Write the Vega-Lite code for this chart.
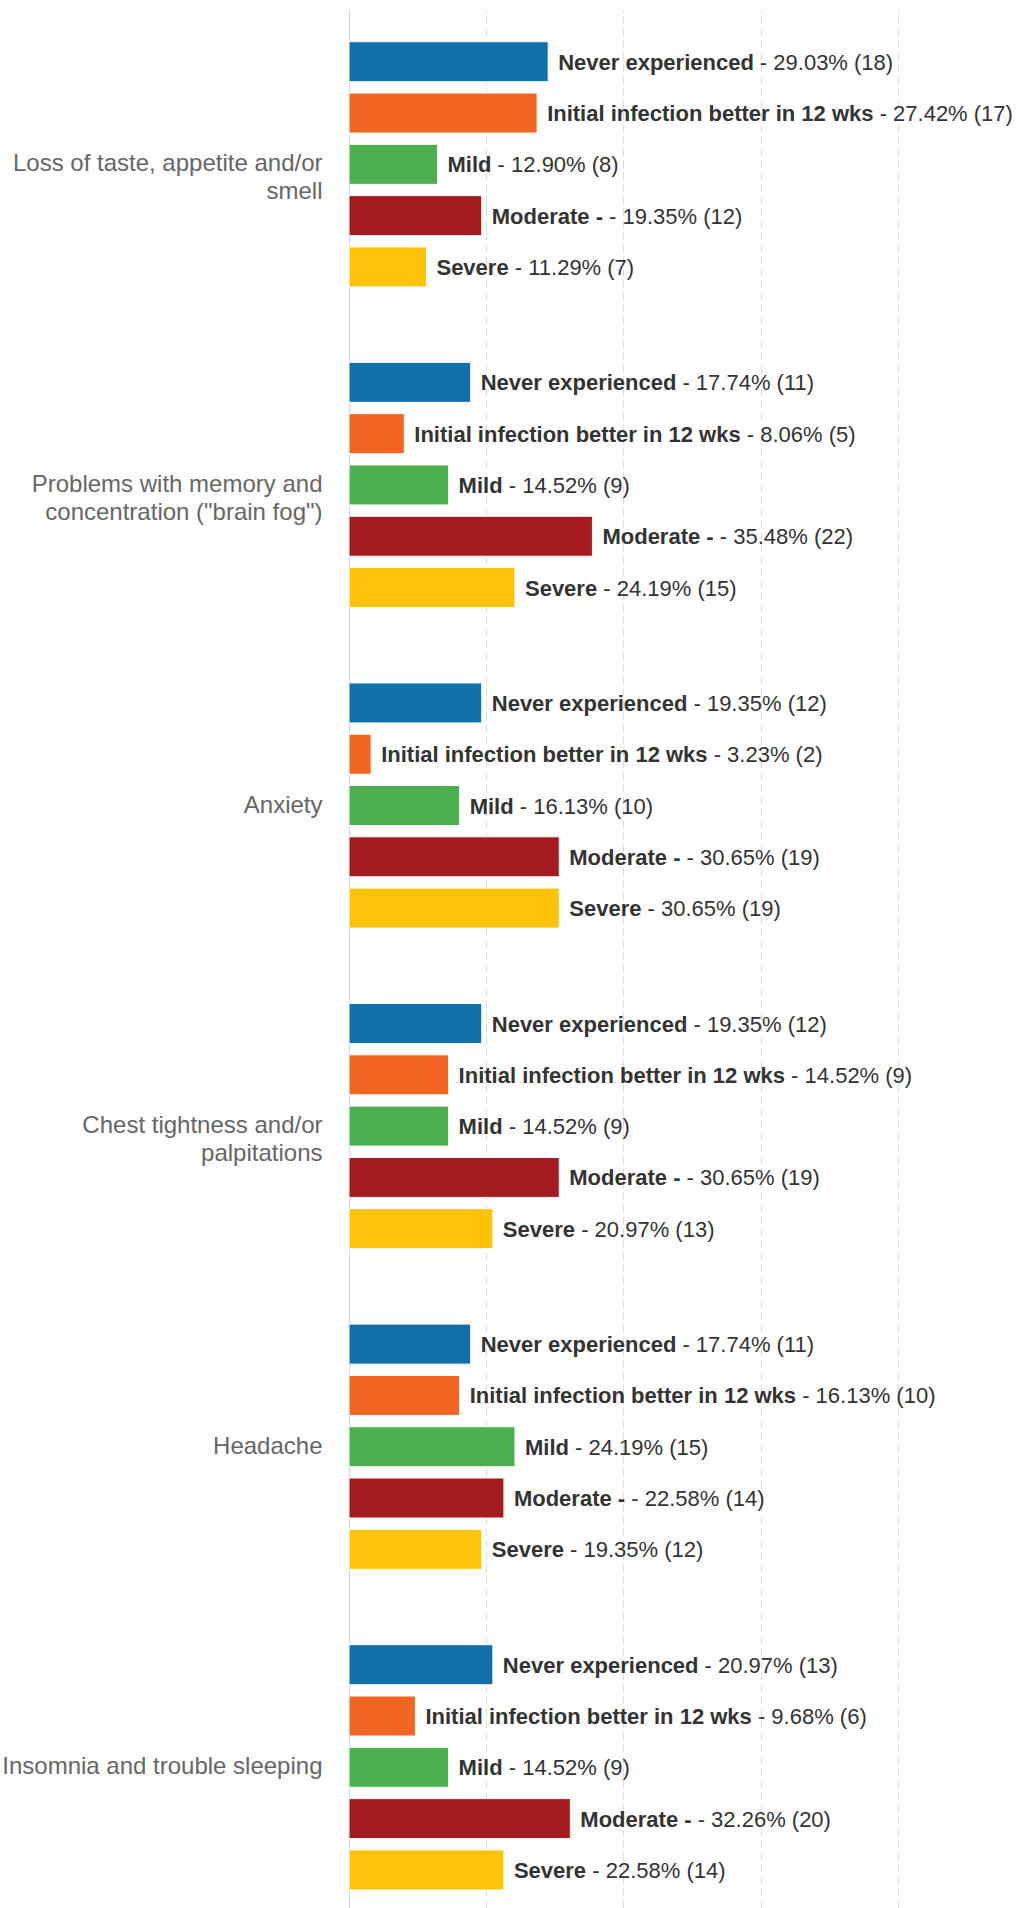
{
  "$schema": "https://vega.github.io/schema/vega-lite/v6.json",
  "autosize": {"type": "none"},
  "padding": {"left": 349, "top": 9, "right": 0, "bottom": 0},
  "width": 671,
  "height": 1899,
  "background": "#ffffff",
  "config": {"view": {"stroke": null}, "font": "Liberation Sans"},
  "data": {
    "values": [
      {"symptom": "Loss of taste, appetite and/or smell", "cat": "Never experienced", "pct": 29.03, "n": 18},
      {"symptom": "Loss of taste, appetite and/or smell", "cat": "Initial infection better in 12 wks", "pct": 27.42, "n": 17},
      {"symptom": "Loss of taste, appetite and/or smell", "cat": "Mild", "pct": 12.90, "n": 8},
      {"symptom": "Loss of taste, appetite and/or smell", "cat": "Moderate -", "pct": 19.35, "n": 12},
      {"symptom": "Loss of taste, appetite and/or smell", "cat": "Severe", "pct": 11.29, "n": 7},
      {"symptom": "Problems with memory and concentration (\"brain fog\")", "cat": "Never experienced", "pct": 17.74, "n": 11},
      {"symptom": "Problems with memory and concentration (\"brain fog\")", "cat": "Initial infection better in 12 wks", "pct": 8.06, "n": 5},
      {"symptom": "Problems with memory and concentration (\"brain fog\")", "cat": "Mild", "pct": 14.52, "n": 9},
      {"symptom": "Problems with memory and concentration (\"brain fog\")", "cat": "Moderate -", "pct": 35.48, "n": 22},
      {"symptom": "Problems with memory and concentration (\"brain fog\")", "cat": "Severe", "pct": 24.19, "n": 15},
      {"symptom": "Anxiety", "cat": "Never experienced", "pct": 19.35, "n": 12},
      {"symptom": "Anxiety", "cat": "Initial infection better in 12 wks", "pct": 3.23, "n": 2},
      {"symptom": "Anxiety", "cat": "Mild", "pct": 16.13, "n": 10},
      {"symptom": "Anxiety", "cat": "Moderate -", "pct": 30.65, "n": 19},
      {"symptom": "Anxiety", "cat": "Severe", "pct": 30.65, "n": 19},
      {"symptom": "Chest tightness and/or palpitations", "cat": "Never experienced", "pct": 19.35, "n": 12},
      {"symptom": "Chest tightness and/or palpitations", "cat": "Initial infection better in 12 wks", "pct": 14.52, "n": 9},
      {"symptom": "Chest tightness and/or palpitations", "cat": "Mild", "pct": 14.52, "n": 9},
      {"symptom": "Chest tightness and/or palpitations", "cat": "Moderate -", "pct": 30.65, "n": 19},
      {"symptom": "Chest tightness and/or palpitations", "cat": "Severe", "pct": 20.97, "n": 13},
      {"symptom": "Headache", "cat": "Never experienced", "pct": 17.74, "n": 11},
      {"symptom": "Headache", "cat": "Initial infection better in 12 wks", "pct": 16.13, "n": 10},
      {"symptom": "Headache", "cat": "Mild", "pct": 24.19, "n": 15},
      {"symptom": "Headache", "cat": "Moderate -", "pct": 22.58, "n": 14},
      {"symptom": "Headache", "cat": "Severe", "pct": 19.35, "n": 12},
      {"symptom": "Insomnia and trouble sleeping", "cat": "Never experienced", "pct": 20.97, "n": 13},
      {"symptom": "Insomnia and trouble sleeping", "cat": "Initial infection better in 12 wks", "pct": 9.68, "n": 6},
      {"symptom": "Insomnia and trouble sleeping", "cat": "Mild", "pct": 14.52, "n": 9},
      {"symptom": "Insomnia and trouble sleeping", "cat": "Moderate -", "pct": 32.26, "n": 20},
      {"symptom": "Insomnia and trouble sleeping", "cat": "Severe", "pct": 22.58, "n": 14}
    ]
  },
  "encoding": {
    "y": {
      "field": "symptom",
      "type": "nominal",
      "sort": null,
      "scale": {"paddingInner": 0.2352, "paddingOuter": 0.0793, "align": 0.644},
      "axis": {
        "title": null,
        "ticks": false,
        "tickSize": 0,
        "labelPadding": 27,
        "labelFontSize": 24,
        "labelColor": "#666666",
        "labelFont": "Liberation Sans",
        "labelLimit": 400,
        "labelLineHeight": 28,
        "domainColor": "#ccd6eb",
        "domainWidth": 1,
        "grid": false,
        "labelExpr": "datum.value == 'Loss of taste, appetite and/or smell' ? ['Loss of taste, appetite and/or', 'smell'] : datum.value == 'Problems with memory and concentration (\"brain fog\")' ? ['Problems with memory and', 'concentration (\"brain fog\")'] : datum.value == 'Chest tightness and/or palpitations' ? ['Chest tightness and/or', 'palpitations'] : datum.value"
      }
    },
    "yOffset": {
      "field": "cat",
      "type": "nominal",
      "sort": ["Never experienced", "Initial infection better in 12 wks", "Mild", "Moderate -", "Severe"],
      "scale": {"paddingInner": 0.22, "paddingOuter": 0}
    },
    "x": {
      "field": "pct",
      "type": "quantitative",
      "scale": {"domain": [0, 97.8], "nice": false, "zero": true},
      "axis": {
        "title": null,
        "labels": false,
        "ticks": false,
        "domain": false,
        "grid": true,
        "values": [20, 40, 60, 80],
        "gridColor": "#dcdcdc",
        "gridDash": [8, 4],
        "gridWidth": 1
      }
    }
  },
  "layer": [
    {
      "mark": {"type": "bar", "stroke": "#ffffff", "strokeWidth": 1},
      "encoding": {
        "color": {
          "field": "cat",
          "type": "nominal",
          "legend": null,
          "scale": {
            "domain": ["Never experienced", "Initial infection better in 12 wks", "Mild", "Moderate -", "Severe"],
            "range": ["#1170aa", "#f26522", "#4caf50", "#a31b1e", "#fdc20a"]
          }
        }
      }
    },
    {
      "mark": {"type": "text", "align": "left", "baseline": "middle", "dx": 10, "dy": 1, "fontSize": 22, "fontWeight": "bold", "color": "#333333", "font": "Liberation Sans"},
      "encoding": {"text": {"field": "cat"}}
    },
    {
      "transform": [
        {"calculate": "'- ' + format(datum.pct, '.2f') + '% (' + datum.n + ')'", "as": "rest"}
      ],
      "mark": {
        "type": "text", "align": "left", "baseline": "middle", "dy": 1, "fontSize": 22, "color": "#333333", "font": "Liberation Sans",
        "dx": {"expr": "datum.cat == 'Never experienced' ? 211.7 : datum.cat == 'Initial infection better in 12 wks' ? 342.5 : datum.cat == 'Mild' ? 60.1 : datum.cat == 'Moderate -' ? 127.3 : 88.3"}
      },
      "encoding": {"text": {"field": "rest"}}
    }
  ]
}
